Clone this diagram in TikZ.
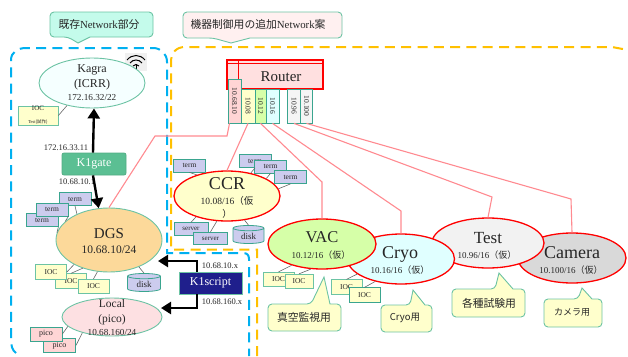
\documentclass[tikz,border=0pt]{standalone}
\usepackage{fontspec}
\setmainfont{Liberation Serif}
\newfontfamily\jpfont{Noto Sans CJK JP}
\usetikzlibrary{arrows.meta}
\usetikzlibrary{shapes.geometric}
\newcommand{\jp}[1]{{\jpfont #1}}
\newcommand{\fs}[1]{\fontsize{#1}{#1}\selectfont}
\definecolor{teal1}{HTML}{3AA58F}
\definecolor{teal2}{HTML}{6CC3A4}
\definecolor{gatefill}{HTML}{5BBF93}
\definecolor{scriptfill}{HTML}{1F1F8C}
\definecolor{lav}{HTML}{CCCCEE}
\definecolor{lemon}{HTML}{FFFFCC}
\definecolor{mint}{HTML}{C4FBEB}
\definecolor{peach}{HTML}{FCD99A}
\definecolor{blush}{HTML}{FDE0E2}
\definecolor{rose}{HTML}{FFD5D5}
\definecolor{lime}{HTML}{D6FFA8}
\definecolor{ice}{HTML}{E0FFFF}
\definecolor{linkred}{HTML}{FF8A90}
\definecolor{zoneblue}{HTML}{00B0F0}
\definecolor{zoneorange}{HTML}{FFC000}
\definecolor{txt}{HTML}{262626}
\tikzset{%
  zone/.style = {dashed,dash pattern=on 10pt off 6.3pt,line width=2pt},
  link/.style = {draw=linkred,line width=1.1pt},
  wire/.style = {draw=black!60,line width=0.6pt},
  heavy/.style = {-{Triangle[length=10pt,width=12pt]},line width=2.4pt},
  net/.style = {ellipse,draw=red,line width=1.3pt,inner sep=0pt,minimum width=107pt,minimum height=50pt},
  base/.style = {ellipse,draw=teal2,line width=0.9pt,inner sep=0pt},
  big/.style = {inner sep=0pt,text=txt,font=\fs{18}},
  addr/.style = {inner sep=0pt,text=txt,font=\fs{9.5}},
  tag/.style = {inner sep=0pt,text=txt,font=\fs{8.5}},
  box/.style = {rectangle,draw=teal1,line width=0.8pt,inner sep=0pt,text=txt},
  term/.style = {box,fill=lav,minimum width=32pt,minimum height=13pt,font=\fs{7.5}},
  server/.style = {box,fill=lav,minimum width=34pt,minimum height=12.5pt,font=\fs{7}},
  ioc/.style = {box,fill=lemon,draw=teal2,minimum width=31pt,minimum height=14.5pt,font=\fs{7.5}},
  pico/.style = {box,fill=rose,draw=teal1,minimum width=32pt,minimum height=14pt,font=\fs{8}},
  disk/.style = {cylinder,shape border rotate=90,aspect=0.35,draw=teal1,fill=lav,line width=0.8pt,inner sep=0pt,
        minimum width=32pt,minimum height=18pt,text=txt,font=\fs{9}},
  port/.style = {box,minimum width=12.5pt,minimum height=34pt,font=\fs{7.5}},
  bubble/.style = {draw=teal2,line width=0.9pt,fill=lemon},
  say/.style = {inner sep=0pt,text=txt,font=\fs{10.8}}
}
\begin{document}
\begin{tikzpicture}[x=1pt,y=-1pt]
    \useasboundingbox (0,0) rectangle (628,356);
    % zones
    \draw[zone,draw=zoneblue] (16,353) .. controls (12,350) and (11,346) .. (11,338) -- (11,60)
        .. controls (11,52) and (18,48) .. (26,48) -- (153,48)
        .. controls (161,48) and (167,54) .. (167,62) -- (167,253) -- (243,253)
        .. controls (247,253) and (249,255) .. (249,259) -- (249,356);
    \draw[zone,draw=zoneorange] (257,356) -- (257,249.5) -- (171,249.5) -- (171,62)
        .. controls (171,53) and (176,47) .. (185,47) -- (612,47) -- (628,50);
    % callouts on top
    \draw[bubble,fill=mint] (68,37) -- (78,43) -- (90,37) [rounded corners=4pt] -- (153,37) -- (153,12) -- (50,12) -- (50,37) -- cycle;
    \node[say] (noteOld) at (99,24) {\jp{既存}Network\jp{部分}};
    \draw[bubble,fill=red!6] (213,38) -- (231,43) -- (250,38) [rounded corners=4pt] -- (342,38) -- (342,12) -- (183,12) -- (183,38) -- cycle;
    \node[say] (noteNew) at (258,24) {\jp{機器制御用の追加}Network\jp{案}};
    % wifi
    \fill[black!6] (125,53) rectangle (147,71);
    \draw[line width=1pt] (127,60) .. controls (132,54) and (140,54) .. (145,60);
    \draw[line width=1pt] (130,63) .. controls (133,59) and (139,59) .. (142,63);
    \draw[line width=1pt] (133,66) .. controls (135,64) and (137,64) .. (139,66);
    \draw[line width=1pt] (136,64) -- (136,71);
    % existing network
    \node[base,fill=green!3!cyan!4,minimum width=106pt,minimum height=50pt] (kagra) at (92,83) {};
    \node[tag,font=\fs{12}] (kagraName) at (92,70) {Kagra};
    \node[tag,font=\fs{12}] (kagraSub) at (92,85) {(ICRR)};
    \node[tag,font=\fs{9.2}] (kagraAddr) at (92,98) {172.16.32/22};
    \node[box,fill=lemon,draw=teal2,minimum width=40pt,minimum height=19pt,align=center] (iocKagra) at (38,115.5)
        {{\fs{7}IOC}\\[1pt]{\fs{4.5}Test\jp{(試作)}}};
    \draw[wire] (iocKagra.east) -- (kagra.222);
    \node[box,fill=gatefill,draw=gatefill!90!black,rounded corners=2pt,minimum width=64pt,minimum height=22pt,text=white,font=\fs{12}] (k1gate) at (94,164) {K1gate};
    \node[tag] (gateHigh) at (66,148) {172.16.33.11};
    \node[tag] (gateLow) at (77,182) {10.68.10.1};
    \node[base,fill=peach,minimum width=106pt,minimum height=64pt] (dgs) at (109,240) {};
    \node[big,font=\fs{15}] (dgsName) at (109,234) {DGS};
    \node[addr,font=\fs{11.5}] (dgsAddr) at (109,250) {10.68.10/24};
    \node[term] (termA) at (75,199) {term};
    \node[term] (termC) at (42,220) {term};
    \node[term] (termB) at (52,209.5) {term};
    \draw[wire] (termA.south) -- (dgs.141);
    \draw[wire] (termB.south east) -- (dgs.157);
    \draw[wire] (termC.south east) -- (dgs.172);
    \node[ioc] (iocB) at (71,281) {IOC};
    \node[ioc] (iocA) at (51,272) {IOC};
    \node[ioc] (iocC) at (93.5,286.5) {IOC};
    \draw[wire] (iocA.east) -- (dgs.215);
    \draw[wire] (iocB.north) -- (dgs.227);
    \draw[wire] (iocC.north) -- (dgs.250);
    \node[disk,minimum width=33pt] (dgsDisk) at (144,284) {disk};
    \draw[wire] (dgsDisk.90) -- (dgs.318);
    \node[base,fill=blush,minimum width=100pt,minimum height=38pt] (local) at (112,317) {};
    \node[tag,font=\fs{11.5}] (localName) at (112,304) {Local};
    \node[tag,font=\fs{11.5}] (localSub) at (112,320) {(pico)};
    \node[tag,font=\fs{9.2}] (localAddr) at (112,332) {10.68.160/24};
    \node[pico] (picoB) at (59.5,345.5) {pico};
    \node[pico] (picoA) at (46,334) {pico};
    \draw[wire] (picoA.east) -- (local.192);
    \draw[wire] (picoB.east) -- (local.208);
    \node[box,fill=scriptfill,draw=teal2,minimum width=63pt,minimum height=22pt,text=white,font=\fs{12}] (k1script) at (210.5,283) {K1script};
    \node[tag] (scriptHigh) at (220,266) {10.68.10.x};
    \node[tag] (scriptLow) at (222,302) {10.68.160.x};
    \coordinate (dgsIn) at (158,261);
    \coordinate (localIn) at (161,308);
    \draw[heavy] ([xshift=-1pt]k1gate.north) -- (kagra.south -| k1gate.north);
    \draw[heavy] ([xshift=-1pt]k1gate.south) -- (dgs.108);
    \draw[heavy] ([xshift=-13.5pt]k1script.north) |- (dgsIn);
    \draw[heavy] ([xshift=-13.5pt]k1script.south) |- (localIn);
    % router and ports
    \node[rectangle,draw=red,line width=1.2pt,fill=red!12,minimum width=96pt,minimum height=29pt] (router) at (275,74.5) {};
    \draw[draw=red,line width=1pt] ([yshift=-4pt]router.north west) -- ([yshift=-4pt]router.north east);
    \draw[draw=red,line width=1pt] ([xshift=12pt]router.north west) -- ([xshift=12pt]router.south west);
    \node[big,font=\fs{15}] (routerName) at (281,77) {Router};
    \node[port,fill=rose,minimum width=13pt,minimum height=44pt] (p1068) at (234.5,101) {\rotatebox{-90}{10.68.10}};
    \node[port,fill=lemon,minimum width=14pt] (p08) at (248,106) {\rotatebox{-90}{10.08}};
    \node[port,fill=lime,minimum width=11pt] (p12) at (260.5,106) {\rotatebox{-90}{10.12}};
    \node[port,fill=ice,minimum width=13pt] (p16) at (272.5,106) {\rotatebox{-90}{10.16}};
    \node[port,fill=black!4] (p96) at (294,106) {\rotatebox{-90}{10.96}};
    \node[port,fill=black!4] (p100) at (306.5,106) {\rotatebox{-90}{10.100}};
    % control networks
    \node[net,minimum width=108pt,minimum height=50pt,fill=black!15] (camera) at (572,258) {};
    \node[big] (cameraName) at (572,253) {Camera};
    \node[addr,font=\fs{9}] (cameraAddr) at (571,270) {10.100/16\jp{（仮）}};
    \node[net,minimum width=112pt,fill=black!5] (test) at (488,243) {};
    \node[big,font=\fs{17}] (testName) at (488,238) {Test};
    \node[addr,font=\fs{9}] (testAddr) at (487,255) {10.96/16\jp{（仮）}};
    \node[net,fill=ice] (cryo) at (401,259) {};
    \node[big] (cryoName) at (400,254) {Cryo};
    \node[addr,font=\fs{9}] (cryoAddr) at (400,270) {10.16/16\jp{（仮）}};
    \node[net,minimum width=108pt,fill=lime] (vac) at (322,244) {};
    \node[big,font=\fs{16.5}] (vacName) at (322,237) {VAC};
    \node[addr,font=\fs{9}] (vacAddr) at (321,255) {10.12/16\jp{（仮）}};
    \node[net,minimum width=106pt,fill=lemon] (ccr) at (227,196) {};
    \node[big] (ccrName) at (227,184) {CCR};
    \node[addr] (ccrAddr) at (227,201) {10.08/16\jp{（仮}};
    \node[addr] (ccrTail) at (227,214) {\jp{）}};
    % CCR hosts
    \node[term] (termD) at (189.5,165.5) {term};
    \node[term] (termE) at (255,161) {term};
    \node[term] (termF) at (270.5,166.5) {term};
    \node[term] (termG) at (290.5,177) {term};
    \draw[wire] (termD.south) -- (ccr.145);
    \draw[wire] (termE.south) -- (ccr.44);
    \draw[wire] (termF.south) -- (ccr.24);
    \draw[wire] (termG.south) -- (ccr.8);
    \node[server] (serverA) at (191,229) {server};
    \node[server] (serverB) at (210.5,238.5) {server};
    \node[disk,minimum width=31pt] (ccrDisk) at (248.5,236) {disk};
    \draw[wire] (serverA.north) -- (ccr.214);
    \draw[wire] (serverB.north) -- (ccr.248);
    \draw[wire] (ccrDisk.90) -- (ccr.306);
    % VAC and Cryo hosts
    \node[ioc] (iocD) at (278.5,279.5) {IOC};
    \node[ioc,minimum width=28pt] (iocE) at (299,281.5) {IOC};
    \node[ioc] (iocF) at (346.5,287) {IOC};
    \node[ioc,draw=teal1] (iocG) at (364.5,295) {IOC};
    \draw[wire] (iocD.north) -- (vac.215);
    \draw[wire] (iocE.north) -- (vac.246);
    \draw[wire] (iocF.north) -- (cryo.199);
    \draw[wire] (iocG.north) -- (cryo.221);
    % uplinks
    \coordinate (bendDgsA) at (227,136);
    \coordinate (bendDgsB) at (155,136);
    \coordinate (bendVac) at (322,182);
    \coordinate (bendCryo) at (401,211);
    \coordinate (bendTest) at (492,197);
    \coordinate (bendCamera) at (571,199);
    \draw[link] ([xshift=-5pt]p1068.south) -- (bendDgsA) -- (bendDgsB) -- (dgs.north);
    \draw[link] (p08.south) -- (ccr.north);
    \draw[link] (p12.south) -- (bendVac) -- (vac.north);
    \draw[link] (p16.south) -- (bendCryo) -- (cryo.north);
    \draw[link] (p96.south) -- (bendTest) -- (test.north);
    \draw[link] (p100.south) -- (bendCamera) -- (camera.north);
    % usage notes
    \draw[bubble] (311,304) -- (324,277) -- (330,304) [rounded corners=4pt] -- (341,304) -- (341,331) -- (268,331) -- (268,304) -- cycle;
    \node[say] (noteVac) at (304,317) {\jp{真空監視用}};
    \draw[bubble] (410,305) -- (413,290) -- (425,305) [rounded corners=4pt] -- (432,305) -- (432,332) -- (381,332) -- (381,305) -- cycle;
    \node[say,font=\fs{9.5}] (noteCryo) at (405,318) {\jp{Cryo用}};
    \draw[bubble] (495,289) -- (499,273) -- (513,289) [rounded corners=4pt] -- (525,289) -- (525,317) -- (452,317) -- (452,289) -- cycle;
    \node[say] (noteTest) at (489,303) {\jp{各種試験用}};
    \draw[bubble] (578,299) -- (582,288) -- (592,299) [rounded corners=4pt] -- (602,299) -- (602,327) -- (544,327) -- (544,299) -- cycle;
    \node[say,font=\fs{9}] (noteCamera) at (572,312) {\jp{カメラ用}};
\end{tikzpicture}
\end{document}
